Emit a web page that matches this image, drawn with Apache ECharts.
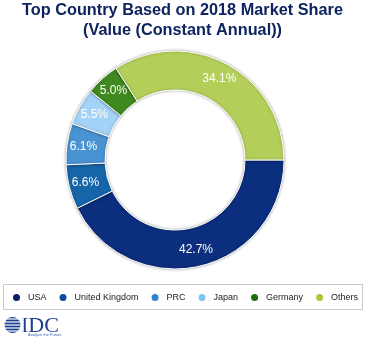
<!DOCTYPE html>
<html><head><meta charset="utf-8">
<script src="https://cdn.jsdelivr.net/npm/echarts@6/dist/echarts.min.js"></script>
<style>html,body{margin:0;padding:0;background:#fff}#c{width:366px;height:345px}</style>
</head><body><div id="c"></div>
<script>
const categories = ['USA', 'United Kingdom', 'PRC', 'Japan', 'Germany', 'Others'];
const values = [42.7, 6.6, 6.1, 5.5, 5.0, 34.1];
const ringColors = ['#0b2e7e', '#1565a8', '#4a93d3', '#a3d3f6', '#3f8a1f', '#b3cf5a'];
const legendColors = ['#0a1f6b', '#0b4aa0', '#2a85d0', '#7fc4f4', '#1c6e0e', '#a5c93a'];
const titleLines = ['Top Country Based on 2018 Market Share', '(Value (Constant Annual))'];

const chart = echarts.init(document.getElementById('c'));
const stripes = [];
[-6, -3, 0, 3, 6].forEach(function (dy) {
  stripes.push({ type: 'rect', shape: { x: 3, y: 325 + dy - 0.6, width: 21, height: 1.2 }, style: { fill: '#ffffff' }, z: 11 });
});
const titleFont = 'bold 16.3px "Liberation Sans", Arial, sans-serif';
chart.setOption({
  animation: false,
  legend: {
    left: 11, top: 292, width: 360, padding: 0, itemWidth: 9, itemHeight: 9, itemGap: 11, icon: 'circle',
    data: categories.map(function (c, i) { return { name: c, itemStyle: { color: legendColors[i] } }; }),
    textStyle: { fontFamily: '"Liberation Sans", Arial, sans-serif', fontSize: 9, color: '#222', padding: [0, 0, 0, 2] }
  },
  graphic: [
    { type: 'text', x: 182.5, y: 11, style: { text: titleLines[0], font: titleFont, fill: '#0e2461', textAlign: 'center', textVerticalAlign: 'middle' } },
    { type: 'text', x: 182.5, y: 30.5, style: { text: titleLines[1], font: titleFont, fill: '#0e2461', textAlign: 'center', textVerticalAlign: 'middle' } },
    { type: 'rect', shape: { x: 3.5, y: 284.5, width: 359, height: 25 }, style: { fill: 'none', stroke: '#c8c8c8', lineWidth: 1 } },
    { type: 'circle', shape: { cx: 12.5, cy: 325, r: 8 }, style: { fill: '#1d3f8f' }, z: 10 },
    { type: 'group', children: stripes },
    { type: 'text', left: 21, top: 315, style: { text: 'IDC', font: '22px "Liberation Serif", serif', fill: '#1d3f8f' } },
    { type: 'text', left: 28, top: 333, style: { text: 'Analyze the Future', font: '4px "Liberation Sans", sans-serif', fill: '#3a6cc0' } }
  ],
  series: [{
    type: 'pie', center: [175, 160], radius: [70, 109], startAngle: 0, clockwise: true,
    avoidLabelOverlap: false,
    data: categories.map(function (c, i) { return { name: c, value: values[i], itemStyle: { color: ringColors[i] } }; }),
    itemStyle: { borderColor: '#ffffff', borderWidth: 1, shadowBlur: 3, shadowColor: 'rgba(0,0,0,0.35)' },
    label: { show: true, position: 'inside', formatter: function (p) { return p.value.toFixed(1) + '%'; },
      color: '#ffffff', fontSize: 12, fontFamily: 'Liberation Sans, Arial, sans-serif' },
    labelLine: { show: false },
    emphasis: { disabled: true }
  }]
});
</script></body></html>
